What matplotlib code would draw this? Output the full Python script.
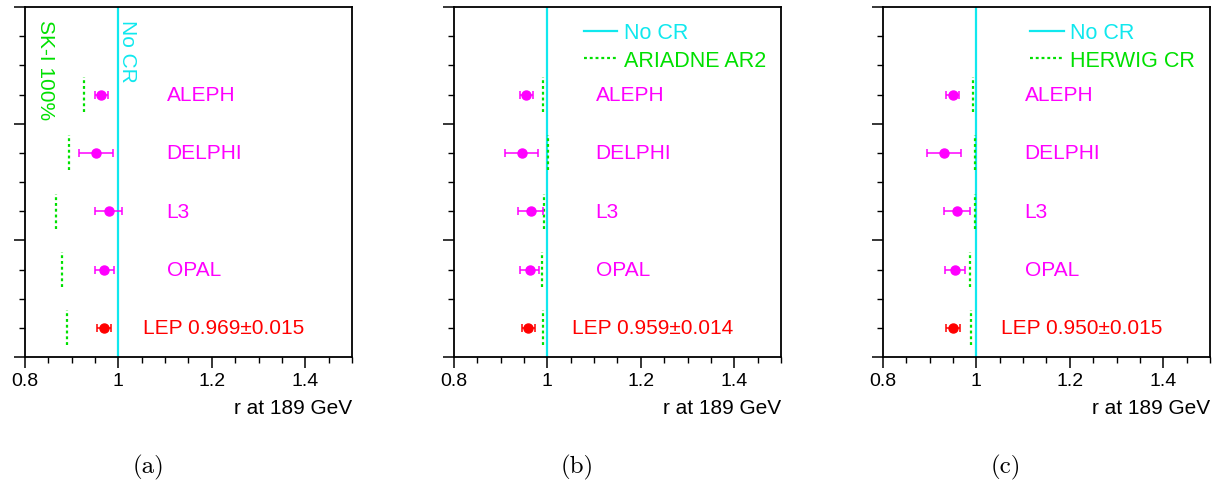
import matplotlib
matplotlib.use("Agg")
import matplotlib.pyplot as plt
from matplotlib.ticker import MultipleLocator

plt.rcParams["font.family"] = ["Liberation Sans", "DejaVu Sans"]

# experiments, top to bottom; LEP combination last
experiments = ["ALEPH", "DELPHI", "L3", "OPAL", "LEP"]
ypos = [9, 7, 5, 3, 1]

# measured r at 189 GeV and total error, per panel
r_a = [0.963, 0.952, 0.979, 0.970, 0.969]
err_a = [0.014, 0.037, 0.029, 0.021, 0.015]
r_b = [0.955, 0.945, 0.964, 0.962, 0.959]
err_b = [0.014, 0.035, 0.027, 0.021, 0.014]
r_c = [0.949, 0.931, 0.958, 0.954, 0.950]
err_c = [0.014, 0.036, 0.028, 0.021, 0.015]

# model predictions (green dashed)
pred_a = [0.927, 0.895, 0.867, 0.879, 0.890]
pred_b = [0.991, 1.002, 0.993, 0.988, 0.991]
pred_c = [0.992, 0.998, 0.998, 0.986, 0.988]

lep_text = ["LEP 0.969\u00b10.015", "LEP 0.959\u00b10.014", "LEP 0.950\u00b10.015"]
model_names = ["SK-I 100%", "ARIADNE AR2", "HERWIG CR"]
captions = ["(a)", "(b)", "(c)"]

CYAN = "#10e8ee"
GREEN = "#00e000"
MAGENTA = "#ff00ff"
RED = "#ff0000"

fig = plt.figure(figsize=(12.23, 4.85), dpi=100)
lefts = [25 / 1223, 454 / 1223, 883 / 1223]
w = 327 / 1223
bottom = 1 - 358 / 485
h = 350 / 485

panels = [(r_a, err_a, pred_a), (r_b, err_b, pred_b), (r_c, err_c, pred_c)]

for i, (vals, errs, preds) in enumerate(panels):
    ax = fig.add_axes([lefts[i], bottom, w, h])
    ax.set_xlim(0.8, 1.5)
    ax.set_ylim(0, 12)

    # No CR reference
    ax.axvline(1.0, color=CYAN, lw=1.6, zorder=2)

    # predictions
    ax.vlines(preds, [y - 0.6 for y in ypos], [y + 0.6 for y in ypos],
              colors=GREEN, linestyles=(0, (1.3, 1.3)), lw=1.6, zorder=3)

    for j, name in enumerate(experiments):
        col = RED if name == "LEP" else MAGENTA
        ax.errorbar(vals[j], ypos[j], xerr=errs[j], fmt="o", color=col,
                    ms=6.5, capsize=3, elinewidth=1.1, capthick=1.1, zorder=4)
        if name == "LEP":
            ax.text(1.053, ypos[j], lep_text[i], color=RED, fontsize=15,
                    va="center", ha="left")
        else:
            ax.text(1.103, ypos[j], name, color=MAGENTA, fontsize=15,
                    va="center", ha="left")

    if i == 0:
        ax.text(0.843, 11.6, model_names[0], color=GREEN, fontsize=15,
                rotation=270, ha="center", va="top")
        ax.text(1.019, 11.6, "No CR", color=CYAN, fontsize=15,
                rotation=270, ha="center", va="top")
    else:
        ax.plot([], [], color=CYAN, lw=1.6, label="No CR")
        ax.plot([], [], color=GREEN, lw=1.6, ls=(0, (1.3, 1.3)), label=model_names[i])
        ax.legend(loc="upper right", frameon=False, fontsize=15.5, labelcolor="linecolor",
                  handlelength=1.55, handletextpad=0.3, borderaxespad=0.3,
                  labelspacing=0.3)

    ax.xaxis.set_major_locator(MultipleLocator(0.2))
    ax.xaxis.set_minor_locator(MultipleLocator(0.05))
    ax.yaxis.set_major_locator(MultipleLocator(4))
    ax.yaxis.set_minor_locator(MultipleLocator(1))
    ax.set_xticks([0.8, 1.0, 1.2, 1.4])
    ax.set_xticklabels(["0.8", "1", "1.2", "1.4"])
    ax.tick_params(axis="y", which="both", labelleft=False)
    ax.tick_params(which="major", length=8, width=1.1, direction="out")
    ax.tick_params(which="minor", length=4, width=1.0, direction="out")
    ax.tick_params(axis="x", labelsize=14, pad=3)
    for s in ax.spines.values():
        s.set_linewidth(1.3)

    ax.set_xlabel("r at 189 GeV", fontsize=15, loc="right", labelpad=6)

    fig.text((lefts[i] + w / 2) - 0.033, 1 - 467 / 485, captions[i], fontsize=18,
             family="cmr10", ha="center", va="center")

fig.savefig("out.png", dpi=100)
